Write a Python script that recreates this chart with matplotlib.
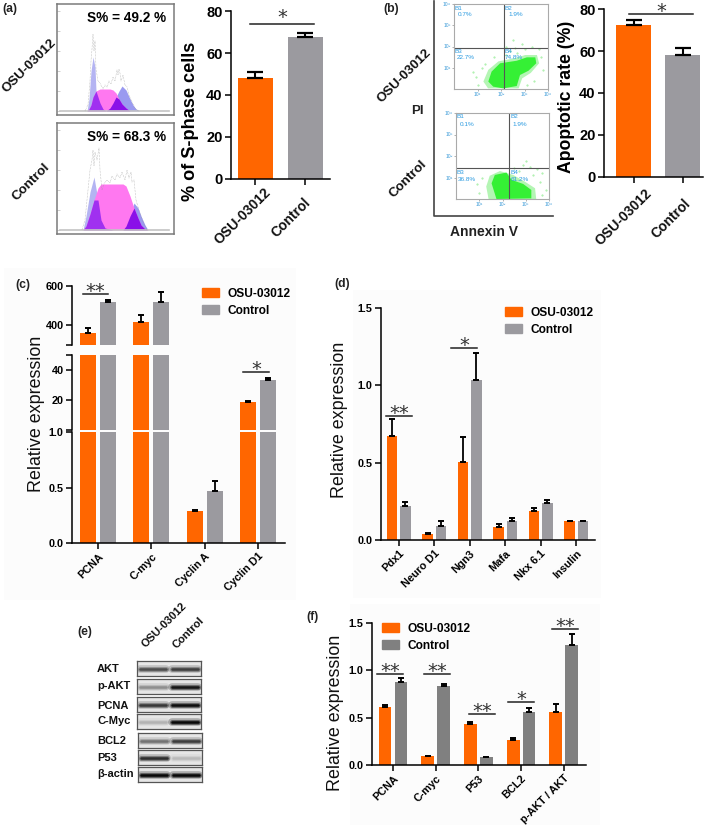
import numpy as np
from matplotlib import pyplot as plt
from matplotlib.patches import Patch, Rectangle

plt.rcParams['font.family'] = ['Liberation Sans', 'DejaVu Sans']
plt.rcParams['font.weight'] = 'bold'
plt.rcParams['axes.linewidth'] = 1.1

W, H = 709, 825
ORANGE = '#ff6600'
GRAY = '#9b9a9f'
DARKGRAY = '#808080'

'''
    DATA
'''
groups = ['OSU-03012', 'Control']

# (a) S-phase bars
sphase_vals = [48.2, 67.8]
sphase_errs = [2.8, 1.8]

# (b) apoptosis bars
apop_vals = [72.5, 58.3]
apop_errs = [2.2, 3.0]

# (c) broken axis bars
c_genes = ['PCNA', 'C-myc', 'Cyclin A', 'Cyclin D1']
c_osu = [359, 415, 0.285, 18.2]
c_osu_err = [29, 36, 0.01, 0.8]
c_ctrl = [519, 519, 0.464, 32.9]
c_ctrl_err = [8, 51, 0.096, 1.9]

# (d)
d_genes = ['Pdx1', 'Neuro D1', 'Ngn3', 'Mafa', 'Nkx 6.1', 'Insulin']
d_osu = [0.67, 0.04, 0.505, 0.085, 0.185, 0.12]
d_osu_err = [0.11, 0.005, 0.16, 0.02, 0.02, 0.005]
d_ctrl = [0.22, 0.09, 1.03, 0.125, 0.24, 0.12]
d_ctrl_err = [0.025, 0.035, 0.18, 0.02, 0.02, 0.005]

# (f)
f_genes = ['PCNA', 'C-myc', 'P53', 'BCL2', 'p-AKT / AKT']
f_osu = [0.61, 0.095, 0.43, 0.26, 0.555]
f_osu_err = [0.025, 0.005, 0.025, 0.025, 0.09]
f_ctrl = [0.87, 0.83, 0.08, 0.555, 1.27]
f_ctrl_err = [0.05, 0.025, 0.005, 0.05, 0.115]

# (a) cell cycle histograms
h1_x = [30, 32, 34, 36, 38, 39, 43, 46, 49, 53, 56, 59, 62, 65, 69, 73, 76, 79, 83]
h1_g1 = [0, 12, 40, 54, 44, 20, 8, 2, 0, 0, 0, 0, 0, 0, 0, 0, 0, 0, 0]
h1_s = [0, 2, 6, 14, 18, 20, 22, 22, 22, 22, 21, 18, 12, 7, 3, 0, 0, 0, 0]
h1_g2 = [0, 0, 0, 0, 0, 0, 0, 0, 0, 3, 8, 14, 20, 25, 21, 12, 6, 2, 0]
h1_trace_x = [28, 31, 33, 34, 35, 36, 37, 38, 39, 41, 43, 46, 48, 50, 52, 54, 56, 58, 60, 61,
              62, 63, 64, 66, 68, 70, 72, 75, 78, 82]
h1_trace = [0, 6, 30, 50, 62, 77, 60, 70, 42, 30, 28, 22, 26, 24, 30, 27, 34, 30, 41, 36,
            42, 38, 30, 36, 26, 24, 16, 9, 3, 0]

h2_x = [26, 29, 33, 37, 41, 44, 48, 56, 66, 69, 73, 77, 81, 84, 88, 91]
h2_g1 = [0, 14, 38, 53, 30, 10, 2, 0, 0, 0, 0, 0, 0, 0, 0, 0]
h2_s = [0, 4, 16, 30, 42, 46, 46, 46, 46, 44, 34, 22, 12, 5, 1, 0]
h2_g2 = [0, 0, 0, 0, 0, 0, 0, 0, 0, 4, 14, 27, 22, 14, 5, 0]
h2_trace_x = [25, 28, 31, 33, 35, 36, 37, 38, 40, 42, 43, 45, 47, 50, 53, 55, 58, 60, 63, 65,
              68, 70, 72, 74, 75, 77, 79, 82, 86, 90]
h2_trace = [0, 10, 40, 60, 70, 80, 64, 78, 70, 82, 60, 40, 46, 50, 47, 54, 50, 56, 52, 58,
            50, 60, 52, 58, 48, 50, 30, 20, 8, 0]

# (b) flow cytometry clouds in log10 units
f1_core = [(1.46, .35), (1.6, .82), (1.96, 1.21), (2.67, 1.33), (3.1, 1.49), (3.46, 1.49),
           (3.5, 1.21), (3.17, .86), (2.81, .66), (2.67, .14), (2.1, .03), (1.67, .11)]
f1_fringe = [(1.25, .35), (1.46, .9), (1.89, 1.3), (2.6, 1.45), (3.03, 1.6), (3.53, 1.6),
             (3.62, 1.21), (3.27, .76), (2.9, .5), (2.75, .03), (1.45, .03)]
f1_stray = [(2.4, 1.8), (2.7, 1.7), (2.9, 2.1), (2.5, 2.3), (3.0, 1.9), (2.2, 1.6), (1.2, 1.0),
            (0.95, .55), (1.0, .2), (1.3, 1.2), (3.7, 1.5), (3.8, .9), (3.4, .4), (3.1, .2),
            (2.6, 1.95), (3.3, 2.0), (1.7, 1.5), (3.6, 1.9), (2.2, 2.0), (0.8, .8)]
f2_core = [(1.53, .73), (1.67, 1.12), (2.17, 1.23), (2.39, .89), (2.89, .7), (3.24, .42),
           (3.24, .03), (1.74, 0.0)]
f2_fringe = [(1.3, .58), (1.45, 1.08), (1.89, 1.3), (2.46, 1.12), (3.0, .78), (3.4, .5),
             (3.45, 0), (1.4, 0)]
f2_stray = [(2.9, 1.6), (3.0, 1.75), (3.2, 1.5), (3.5, 1.4), (3.7, 1.2), (3.6, .8), (3.85, .4),
            (3.7, .2), (1.0, .3), (0.9, .7), (1.1, 1.0), (2.7, 1.3), (2.5, 1.45), (3.3, 1.1)]

# (e) western blot band strength per lane
blot_names = ['AKT', 'p-AKT', 'PCNA', 'C-Myc', 'BCL2', 'P53', 'β-actin']
blot_osu = [0.72, 0.42, 0.8, 0.22, 0.55, 0.85, 1.0]
blot_ctrl = [0.78, 0.95, 0.98, 1.0, 0.78, 0.18, 1.0]


def px_axes(left, top, right, bottom):
    ax = fig.add_axes([left / W, 1 - bottom / H, (right - left) / W, (bottom - top) / H])
    ax.set_facecolor('none')
    return ax


def clean(ax):
    ax.spines['top'].set_visible(False)
    ax.spines['right'].set_visible(False)
    ax.tick_params(length=4, width=1.1, pad=2)


def group_xlim(ax, left, right, first, step):
    ax.set_xlim((left - first) / step, (right - first) / step)


def pair_bars(ax, osu, osu_err, ctrl, ctrl_err, color2=GRAY, low=-1):
    xs = np.arange(len(osu))
    for x, vals, errs, col in [(xs - 0.187, osu, osu_err, ORANGE), (xs + 0.187, ctrl, ctrl_err, color2)]:
        # only the bars and caps that reach this piece of the axis
        keep = np.array(vals) > low
        ax.bar(x[keep], np.array(vals)[keep], 0.3, color=col)
        ax.errorbar(x[keep], np.array(vals)[keep], yerr=[np.zeros(keep.sum()), np.array(errs)[keep]],
                    fmt='none', ecolor='black', elinewidth=1.3, capsize=2.2, capthick=1.4)


def two_bars(ax, vals, errs):
    ax.bar([0, 1], vals, 0.7, color=[ORANGE, GRAY])
    ax.errorbar([0, 1], vals, yerr=[[0, 0], errs], fmt='none', ecolor='black',
                elinewidth=1.5, capsize=5.5, capthick=1.6)
    ax.set_ylim(0, 80)
    ax.set_yticks([0, 20, 40, 60, 80])
    ax.set_xticks([0, 1])
    ax.set_xticklabels([])
    clean(ax)
    ax.tick_params(axis='y', labelsize=10.5)


def rotated_labels(ax, labels, size):
    ax.set_xticks(range(len(labels)))
    ax.set_xticklabels(labels, rotation=45, ha='right', rotation_mode='anchor', fontsize=size)


def sig(x0, x1, y, stars, gap=2.6):
    over.plot([x0, x1], [y, y], color='#222222', lw=1.1)
    over.text((x0 + x1) / 2, y - gap, stars, ha='center', va='center', fontsize=14,
              fontweight='normal', color='#333333', family='DejaVu Sans')


def legend(x, y, color2=GRAY):
    over.legend(handles=[Patch(color=ORANGE, label=groups[0]), Patch(color=color2, label=groups[1])],
                loc='upper left', bbox_to_anchor=(x, y), bbox_transform=over.transData,
                frameon=False, borderpad=0, borderaxespad=0, handlelength=1.45, handleheight=0.75,
                handletextpad=0.67, labelspacing=0.42, prop={'size': 8.6, 'weight': 'bold'})


def cell_hist(top, bottom, xs, g1, s, g2, tx, ty, title):
    ax = px_axes(57, top, 174, bottom)
    ax.set_xlim(0, 117)
    ax.set_ylim(-4, 107)
    ax.plot([3, 112], [0, 0], color='#c4c4c4', lw=1.2)
    ax.fill_between(xs, 0, g1, color='#b4b4f2', lw=0)
    ax.fill_between(xs, 0, g2, color='#9a9af0', lw=0)
    ax.fill_between(xs, 0, s, color='#ff78f0', lw=0)
    ax.fill_between(xs, 0, np.minimum(g1, s), color='#a030f0', lw=0)
    ax.fill_between(xs, 0, np.minimum(g2, s), color='#8a10e8', lw=0)
    ax.plot(tx, ty, color='#999999', lw=0.4, ls=':')
    ax.set_xticks([])
    ax.set_yticks([0, 20, 40, 60, 80, 100])
    ax.set_yticklabels([])
    ax.tick_params(axis='y', direction='in', length=2, width=0.5, color='#bbbbbb')
    for sp in ax.spines.values():
        sp.set_color('#7a7a7a')
        sp.set_linewidth(1.1)
    ax.text(0.935, 0.875, title, transform=ax.transAxes, ha='right', va='center', fontsize=9.8)


def flow_plot(box, vline, hline, fringe, core, stray, texts):
    ax = px_axes(*box)
    ax.set_xlim(0, 4)
    ax.set_ylim(0, 4)
    ax.fill(*zip(*fringe), color='#b4f5b4', lw=0)
    ax.fill(*zip(*core), color='#35f035', lw=0)
    ax.plot(*zip(*stray), ls='none', marker='.', ms=1, color='#a0eea0')
    ax.axvline(vline, color='#555555', lw=0.8)
    ax.axhline(hline, color='#555555', lw=0.8)
    ax.set_xticks([1, 2, 3, 4])
    ax.set_yticks([1, 2, 3, 4])
    ax.set_xticklabels(['10¹', '10²', '10³', '10⁴'], fontsize=3.6, color='#3a9ad8', fontweight='normal')
    ax.set_yticklabels(['10¹', '10²', '10³', '10⁴'], fontsize=3.6, color='#3a9ad8', fontweight='normal')
    ax.tick_params(length=1.5, width=0.4, pad=1, color='#777777')
    for sp in ax.spines.values():
        sp.set_color('#aaaaaa')
        sp.set_linewidth(0.8)
    for tx, ty, s in texts:
        ax.text(tx, ty, s, fontsize=4.6, color='#2a9ae0', fontweight='normal', va='center')


fig = plt.figure(figsize=(W / 100, H / 100), dpi=100)

# very faint background behind the pasted panels
bg = px_axes(0, 0, W, H)
bg.set_zorder(-1)
bg.set_xlim(0, W)
bg.set_ylim(H, 0)
bg.axis('off')
for x, y, w, h in [(4, 268, 292, 332), (353, 290, 248, 308), (350, 604, 250, 221)]:
    bg.add_patch(Rectangle((x, y), w, h, color='#fcfcfc', lw=0))

'''
    (a)
'''
cell_hist(4, 115, h1_x, h1_g1, h1_s, h1_g2, h1_trace_x, h1_trace, 'S% = 49.2 %')
cell_hist(123, 234, h2_x, h2_g1, h2_s, h2_g2, h2_trace_x, h2_trace, 'S% = 68.3 %')

ax_a = px_axes(231, 11, 330, 179)
two_bars(ax_a, sphase_vals, sphase_errs)
group_xlim(ax_a, 231, 330, 255, 50)
ax_a.set_ylabel('% of S-phase cells', fontsize=13.1, fontweight='bold')
ax_a.yaxis.set_label_coords(-0.32, 0.342)

'''
    (b)
'''
flow_plot((454, 4, 548, 89), 2.14, 1.93, f1_fringe, f1_core, f1_stray,
          [(0.02, 3.8, 'B1'), (0.15, 3.5, '0.7%'), (2.17, 3.8, 'B2'), (2.3, 3.5, '1.9%'),
           (0.02, 1.75, 'B3'), (0.1, 1.5, '22.7%'), (2.17, 1.75, 'B4'), (2.17, 1.5, '74.8%')])
flow_plot((456, 113, 549, 199), 2.29, 1.43, f2_fringe, f2_core, f2_stray,
          [(0.02, 3.83, 'B1'), (0.15, 3.47, '0.1%'), (2.35, 3.83, 'B2'), (2.45, 3.47, '1.9%'),
           (0.02, 1.25, 'B3'), (0.08, 0.92, '36.8%'), (2.35, 1.25, 'B4'), (2.35, 0.92, '61.2%')])

ax_b = px_axes(604, 9, 703, 177)
two_bars(ax_b, apop_vals, apop_errs)
group_xlim(ax_b, 604, 703, 633.5, 49)
ax_b.set_ylabel('Apoptotic rate (%)', fontsize=12.7, fontweight='bold')
ax_b.yaxis.set_label_coords(-0.29, 0.479)

'''
    (c) three piece y axis
'''
ax_c3 = px_axes(72, 286, 285, 345)
ax_c2 = px_axes(72, 355, 285, 429.5)
ax_c1 = px_axes(72, 432, 285, 543)
for ax, low in [(ax_c1, -1), (ax_c2, 1), (ax_c3, 300)]:
    pair_bars(ax, c_osu, c_osu_err, c_ctrl, c_ctrl_err, low=low)
    group_xlim(ax, 72, 285, 98, 53.4)
    clean(ax)
    ax.tick_params(axis='y', labelsize=7.8)
ax_c3.set_ylim(300, 600)
ax_c3.set_yticks([300, 400, 600])
ax_c3.set_yticklabels(['', '400', '600'])
ax_c2.set_ylim(0, 50)
ax_c2.set_yticks([0, 20, 40, 50])
ax_c2.set_yticklabels(['', '20', '40', ''])
ax_c1.set_ylim(0, 1)
ax_c1.set_yticks([0, 0.5, 1])
ax_c1.set_yticklabels(['0.0', '0.5', '1.0'])
for ax in [ax_c3, ax_c2]:
    ax.spines['bottom'].set_visible(False)
    ax.set_xticks([])
rotated_labels(ax_c1, c_genes, 7.8)

'''
    (d)
'''
ax_d = px_axes(380.7, 307.7, 595, 540)
pair_bars(ax_d, d_osu, d_osu_err, d_ctrl, d_ctrl_err)
group_xlim(ax_d, 380.7, 595, 398.7, 35.5)
ax_d.set_ylim(0, 1.5)
ax_d.set_yticks([0, 0.5, 1.0, 1.5])
clean(ax_d)
ax_d.tick_params(axis='y', labelsize=7.8)
rotated_labels(ax_d, d_genes, 7.8)

'''
    (e)
'''
blot_tops = [661, 679, 697, 714, 733, 750, 767]
blot_lefts = [137, 137, 137, 137, 138, 138, 138]
blot_label_y = [669, 686, 706, 721.5, 741, 758, 774]
for top, left, osu, ctrl in zip(blot_tops, blot_lefts, blot_osu, blot_ctrl):
    ax = px_axes(left, top, left + 64, top + 15)
    ax.set_xlim(0, 2)
    ax.set_ylim(0, 1)
    ax.set_facecolor('#e6e6e6')
    ax.set_xticks([])
    ax.set_yticks([])
    for sp in ax.spines.values():
        sp.set_color('#555555')
        sp.set_linewidth(0.9)
    for lane, strength in enumerate([osu, ctrl]):
        shade = 1 - strength
        for lw, a in [(5.5, 0.25), (3.5, 0.45), (1.8, 0.9)]:
            ax.plot([lane + 0.1, lane + 0.92], [0.5, 0.5], color=str(shade * 0.75), alpha=a * (0.35 + 0.65 * strength),
                    lw=lw, solid_capstyle='round')

'''
    (f)
'''
ax_f = px_axes(371.7, 622.7, 585.7, 765)
pair_bars(ax_f, f_osu, f_osu_err, f_ctrl, f_ctrl_err, color2=DARKGRAY)
group_xlim(ax_f, 371.7, 585.7, 393, 42.7)
ax_f.set_ylim(0, 1.5)
ax_f.set_yticks([0, 0.5, 1.0, 1.5])
clean(ax_f)
ax_f.tick_params(axis='y', labelsize=7.8)
rotated_labels(ax_f, f_genes, 7.8)

'''
    OVERLAY: labels written in pixels of the page
'''
over = px_axes(0, 0, W, H)
over.set_xlim(0, W)
over.set_ylim(H, 0)
over.axis('off')

for s, x, y in [('(a)', 2, 9), ('(b)', 383, 9), ('(c)', 15, 285), ('(d)', 334, 284), ('(e)', 77, 632), ('(f)', 306, 617)]:
    over.text(x, y, s, fontsize=8.8, va='center', color='#222222')

for s, x, y in [('OSU-03012', 29, 66), ('Control', 31, 182), ('OSU-03012', 404, 76), ('Control', 408, 179),
                ('OSU-03012', 164, 625), ('Control', 188, 633)]:
    over.text(x, y, s, fontsize=9.6 if y < 300 else 8, rotation=45, ha='center', va='center', color='#111111')

# bar labels of (a) and (b) sit off their ticks in the figure
for s, x, y in [(groups[0], 242, 216), (groups[1], 291, 218), (groups[0], 623, 217), (groups[1], 671, 219)]:
    over.text(x, y, s, fontsize=10, rotation=45, ha='center', va='center', color='#111111')

over.text(417, 111, 'PI', fontsize=9.5, ha='center', va='center', color='#222222')
over.text(484, 232, 'Annexin V', fontsize=10, ha='center', va='center', color='#222222')

# L shaped axis round the two flow plots
over.plot([434, 434, 553], [1, 216, 216], color='#444444', lw=1.2)

for name, ly in zip(blot_names, blot_label_y):
    over.text(97, ly, name, fontsize=8, va='center', color='#111111')

for x, y in [(37, 414), (340, 420), (336, 713)]:
    over.text(x, y, 'Relative expression', fontsize=12.9, fontweight='normal',
              rotation=90, ha='center', va='center', color='#111111')

sig(250, 314, 24, '*', gap=6.6)
sig(629, 693, 14, '*')
sig(83, 108, 294, '**')
sig(243, 269, 372, '*')
sig(386, 412, 416, '**')
sig(451, 477, 348, '*')
sig(377, 403, 674, '**')
sig(424, 450, 674, '**')
sig(469, 495, 714, '**')
sig(508, 534, 702, '*')
sig(552, 578, 629, '**')

legend(202, 288)
over.add_artist(over.get_legend())
legend(505, 307)
over.add_artist(over.get_legend())
legend(382, 623, color2=DARKGRAY)

fig.savefig('out.png', dpi=100)
